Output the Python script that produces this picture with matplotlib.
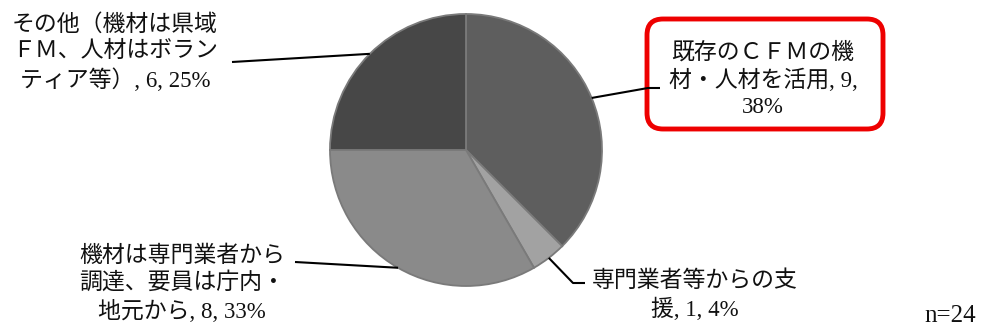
import numpy as np
import matplotlib
matplotlib.use("Agg")
from matplotlib import pyplot as plt
from matplotlib.patches import FancyBboxPatch

# data
names = ["既存のＣＦＭの機\n材・人材を活用",
         "専門業者等からの支\n援",
         "機材は専門業者から\n調達、要員は庁内・\n地元から",
         "その他（機材は県域\nＦＭ、人材はボラン\nティア等）"]
counts = [9, 1, 8, 6]
pcts = [38, 4, 33, 25]
# how the "%" part is joined (line break in the boxed label)
joins = [",\n", ", ", ", ", ", "]
colors = ["#5e5e5e", "#a2a2a2", "#8a8a8a", "#474747"]

W, H = 986, 332
fam = ["Liberation Serif", "Noto Sans CJK JP"]

fig = plt.figure(figsize=(W / 100, H / 100), dpi=100)
ax = fig.add_axes([0, 0, 1, 1])

cx, cy, r = 466, H - 150, 136
wedges, _ = ax.pie(counts, colors=colors, startangle=90, counterclock=False,
                   center=(cx, cy), radius=r,
                   wedgeprops=dict(edgecolor="#7a7a7a", linewidth=1.3))
ax.set_xlim(0, W)
ax.set_ylim(0, H)
ax.set_aspect("equal")
ax.axis("off")

# label text positions (pixel coords, y from top) and leader elbows
label_pos = [(763, 80), (695, 296), (182, 284), (115, 53)]
elbows = [[(648, 88), (660, 88)],
          [(573, 283), (585, 283)],
          [(295, 262)],
          [(232, 62)]]

for i, w in enumerate(wedges):
    ang = np.deg2rad((w.theta1 + w.theta2) / 2)
    ex = cx + r * np.cos(ang)
    ey = cy + r * np.sin(ang)
    pts = [(ex, ey)] + [(x, H - y) for x, y in elbows[i]]
    xs, ys = zip(*pts)
    ax.plot(xs, ys, color="black", lw=1.5, solid_capstyle="butt")
    txt = "%s, %d%s%d%%" % (names[i], counts[i], joins[i], pcts[i])
    lx, ly = label_pos[i]
    ax.text(lx, H - ly, txt, ha="center", va="center", multialignment="center",
            fontsize=16.5, family=fam, linespacing=1.32, color="#111111")

# red highlight box around the largest slice label
box = FancyBboxPatch((647, H - 129), 236, 110,
                     boxstyle="round,pad=0,rounding_size=16",
                     fill=False, edgecolor="#ee0000", linewidth=3.5)
ax.add_patch(box)

ax.text(950, H - 316, "n=24", ha="center", va="center", fontsize=18,
        family=fam, color="#111111")

fig.savefig("out.png", dpi=100)
